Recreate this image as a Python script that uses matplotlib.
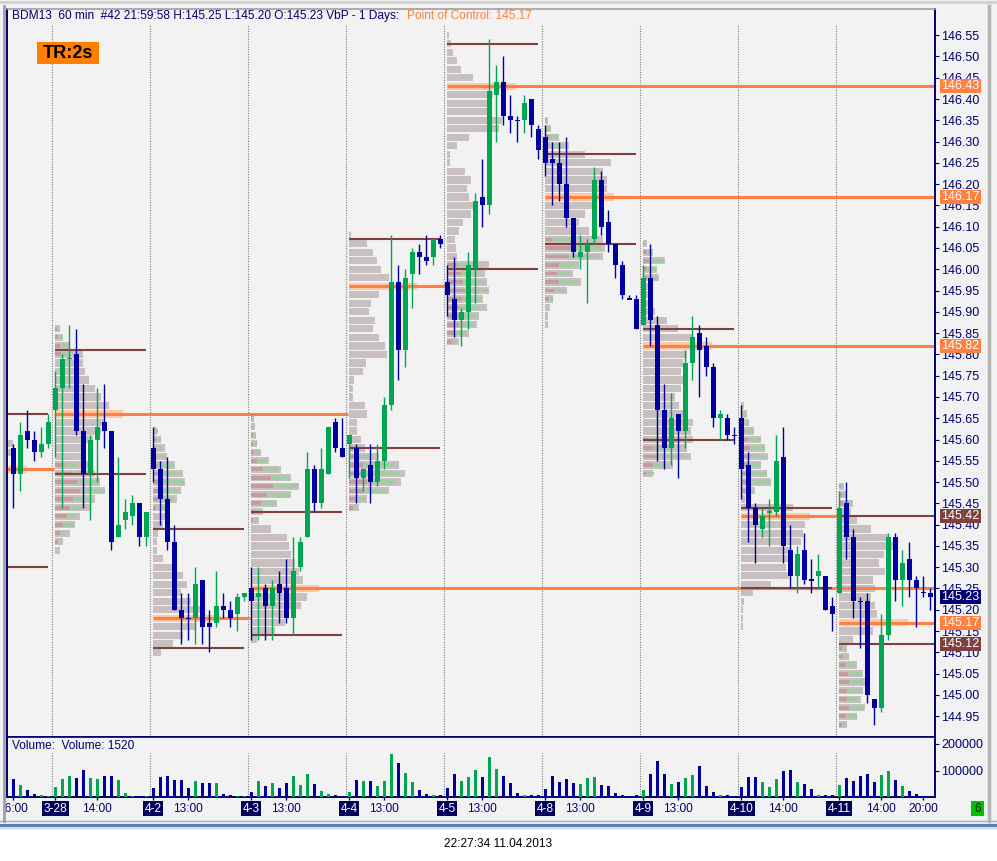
import matplotlib
matplotlib.use('Agg')
import matplotlib.pyplot as plt
import matplotlib.patches as mpatches
import matplotlib.transforms as mtransforms
import numpy as np

plt.rcParams['font.family'] = ['Liberation Sans', 'DejaVu Sans']

W, H = 997, 861

# --- hourly bars (3-27 tail + 9 sessions of 14 bars) ---
opens = [145.58, 145.52, 145.62, 145.60, 145.57, 145.59,
         145.67, 145.72, 145.79, 145.80, 145.62, 145.52, 145.60, 145.64, 145.62, 145.37, 145.41, 145.42, 145.45, 145.37,
         145.58, 145.53, 145.46, 145.36, 145.20, 145.18, 145.18, 145.27, 145.17, 145.17, 145.21, 145.20, 145.19, 145.23,
         145.25, 145.23, 145.25, 145.21, 145.26, 145.25, 145.18, 145.30, 145.37, 145.53, 145.45, 145.52, 145.64, 145.58,
         145.59, 145.58, 145.51, 145.54, 145.50, 145.55, 145.68, 145.97, 145.81, 145.99, 146.04, 146.03, 146.03, 146.07,
         145.97, 145.93, 145.88, 145.90, 146.00, 146.17, 146.15, 146.41, 146.44, 146.36, 146.35, 146.35, 146.40, 146.33,
         146.31, 146.26, 146.25, 146.20, 146.12, 146.03, 146.04, 146.07, 146.21, 146.11, 146.06, 146.01, 145.93, 145.93,
         145.87, 145.98, 145.87, 145.67, 145.58, 145.66, 145.62, 145.78, 145.85, 145.82, 145.77, 145.65, 145.65, 145.61,
         145.65, 145.54, 145.44, 145.39, 145.43, 145.43, 145.56, 145.34, 145.28, 145.34, 145.27, 145.28, 145.28, 145.21,
         145.24, 145.45, 145.37, 145.22, 145.22, 144.99, 144.97, 145.14, 145.37, 145.27, 145.32, 145.27, 145.24, 145.24]
highs = [145.59, 145.64, 145.67, 145.62, 145.63, 145.66,
         145.76, 145.80, 145.87, 145.86, 145.73, 145.61, 145.72, 145.73, 145.62, 145.56, 145.46, 145.47, 145.45, 145.43,
         145.63, 145.55, 145.56, 145.40, 145.24, 145.24, 145.30, 145.27, 145.20, 145.29, 145.24, 145.22, 145.24, 145.24,
         145.30, 145.30, 145.26, 145.27, 145.29, 145.32, 145.37, 145.37, 145.57, 145.54, 145.58, 145.63, 145.65, 145.65,
         145.61, 145.59, 145.53, 145.59, 145.59, 145.70, 146.08, 146.01, 146.00, 146.05, 146.06, 146.08, 146.07, 146.08,
         146.01, 146.03, 145.91, 146.04, 146.18, 146.26, 146.54, 146.48, 146.50, 146.41, 146.36, 146.41, 146.40, 146.34,
         146.34, 146.30, 146.30, 146.31, 146.12, 146.08, 146.07, 146.24, 146.23, 146.14, 146.06, 146.02, 145.94, 145.94,
         146.01, 146.06, 145.89, 145.73, 145.71, 145.66, 145.81, 145.89, 145.87, 145.84, 145.78, 145.67, 145.66, 145.63,
         145.68, 145.57, 145.45, 145.44, 145.46, 145.61, 145.63, 145.40, 145.35, 145.38, 145.32, 145.33, 145.28, 145.23,
         145.48, 145.50, 145.39, 145.23, 145.24, 144.99, 145.19, 145.38, 145.38, 145.34, 145.36, 145.28, 145.28, 145.25]
lows = [145.44, 145.48, 145.58, 145.55, 145.56, 145.58,
        145.56, 145.44, 145.72, 145.61, 145.44, 145.41, 145.50, 145.58, 145.34, 145.37, 145.39, 145.40, 145.35, 145.35,
        145.50, 145.40, 145.34, 145.20, 145.12, 145.13, 145.12, 145.12, 145.10, 145.16, 145.18, 145.16, 145.15, 145.22,
        145.13, 145.13, 145.13, 145.13, 145.17, 145.17, 145.14, 145.29, 145.37, 145.43, 145.44, 145.52, 145.57, 145.56,
        145.51, 145.45, 145.48, 145.45, 145.49, 145.53, 145.67, 145.74, 145.77, 145.91, 145.99, 146.01, 146.01, 146.05,
        145.89, 145.84, 145.82, 145.86, 145.92, 146.10, 146.13, 146.30, 146.34, 146.32, 146.30, 146.32, 146.31, 146.26,
        146.22, 146.15, 146.16, 146.10, 146.03, 146.00, 145.92, 146.06, 146.08, 146.04, 145.98, 145.93, 145.93, 145.86,
        145.87, 145.82, 145.55, 145.53, 145.54, 145.51, 145.58, 145.74, 145.70, 145.75, 145.63, 145.60, 145.60, 145.59,
        145.46, 145.36, 145.31, 145.37, 145.35, 145.42, 145.31, 145.25, 145.24, 145.26, 145.24, 145.25, 145.20, 145.15,
        145.24, 145.32, 145.18, 145.11, 144.98, 144.93, 144.96, 145.13, 145.22, 145.21, 145.23, 145.16, 145.23, 145.20]
closes = [145.52, 145.61, 145.60, 145.57, 145.59, 145.64,
          145.72, 145.79, 145.79, 145.62, 145.52, 145.60, 145.63, 145.62, 145.36, 145.40, 145.43, 145.45, 145.37, 145.43,
          145.53, 145.46, 145.36, 145.20, 145.18, 145.18, 145.26, 145.16, 145.16, 145.21, 145.20, 145.18, 145.23, 145.24,
          145.22, 145.24, 145.21, 145.25, 145.24, 145.18, 145.29, 145.36, 145.53, 145.45, 145.53, 145.63, 145.58, 145.56,
          145.61, 145.51, 145.53, 145.50, 145.55, 145.68, 145.97, 145.81, 145.98, 146.04, 146.03, 146.02, 146.07, 146.06,
          145.94, 145.88, 145.90, 146.01, 146.16, 146.15, 146.42, 146.44, 146.36, 146.35, 146.35, 146.39, 146.34, 146.28,
          146.25, 146.25, 146.20, 146.12, 146.04, 146.04, 146.06, 146.21, 146.10, 146.06, 146.01, 145.94, 145.93, 145.86,
          145.98, 145.88, 145.67, 145.58, 145.65, 145.62, 145.78, 145.84, 145.81, 145.77, 145.65, 145.66, 145.61, 145.61,
          145.53, 145.44, 145.40, 145.42, 145.43, 145.55, 145.35, 145.28, 145.33, 145.27, 145.27, 145.29, 145.20, 145.19,
          145.44, 145.37, 145.22, 145.22, 145.00, 144.97, 145.14, 145.37, 145.27, 145.31, 145.27, 145.25, 145.24, 145.23]
doji_up = [8, 108]   # unchanged bars drawn in the up colour
volumes = [68000, 45000, 26000, 11000, 8000, 4000,
           38000, 68000, 79000, 72000, 102000, 72000, 68000, 79000, 79000, 64000, 15000, 4000, 4000, 4000,
           34000, 76000, 79000, 64000, 64000, 34000, 60000, 53000, 53000, 53000, 11000, 8000, 4000, 4000,
           19000, 60000, 42000, 53000, 34000, 53000, 79000, 45000, 87000, 49000, 23000, 11000, 8000, 4000,
           19000, 64000, 60000, 60000, 42000, 60000, 162000, 128000, 91000, 57000, 26000, 11000, 8000, 8000,
           34000, 87000, 60000, 76000, 102000, 76000, 151000, 106000, 79000, 53000, 15000, 8000, 8000, 8000,
           30000, 79000, 57000, 68000, 53000, 49000, 72000, 76000, 45000, 42000, 15000, 8000, 4000, 8000,
           26000, 87000, 136000, 87000, 49000, 57000, 72000, 83000, 117000, 42000, 19000, 8000, 8000, 4000,
           38000, 76000, 76000, 57000, 38000, 68000, 98000, 102000, 57000, 49000, 30000, 8000, 8000, 8000,
           45000, 72000, 60000, 79000, 87000, 57000, 83000, 98000, 64000, 42000, 23000, 11000, 4000, 4000]

day_names = ['3-28', '4-2', '4-3', '4-4', '4-5', '4-8', '4-9', '4-10', '4-11']
day_starts = [6, 20, 34, 48, 62, 76, 90, 104, 118]
time_label_bars = [0, 12, 25, 39, 53, 67, 81, 95, 110, 124, 130]
time_labels = ['16:00', '14:00', '13:00', '13:00', '13:00', '13:00', '13:00', '13:00', '14:00', '14:00', '20:00']

# --- volume by price, one profile per session (rows every 0.02, from the top price down) ---
vp_starts = [-8, 6, 20, 34, 48, 62, 76, 90, 104, 118]
vp_tops = [145.59, 145.86, 145.62, 145.65, 146.08, 146.55, 146.35, 146.06, 145.68, 145.49]
vp_0327 = [56, 55, 40, 69]
vp_0328 = [5, 8, 14, 28, 28, 30, 34, 40, 46, 54, 68, 50, 46, 38, 30, 26, 38, 40, 45, 50, 40, 36, 25, 20, 15, 8, 5]
vp_0402 = [4, 8, 12, 14, 22, 30, 32, 28, 24, 14, 16, 10, 5, 4, 4, 10, 24, 30, 34, 28, 38, 50, 68, 42, 30, 20, 8]
vp_0403 = [3, 4, 5, 6, 10, 18, 30, 40, 48, 40, 26, 12, 8, 20, 36, 38, 40, 44, 48, 52, 68, 56, 50, 38, 34, 24, 6]
vp_0404 = [2, 18, 24, 28, 32, 40, 68, 30, 22, 20, 26, 24, 30, 36, 38, 17, 14, 5, 4, 4, 16, 18, 8, 8, 12, 16,
           30, 50, 56, 52, 40, 18, 10]
vp_0405 = [2, 4, 6, 10, 14, 26, 69, 46, 42, 45, 55, 52, 22, 10, 3, 3, 18, 24, 20, 22, 26, 24, 16, 12, 8, 9, 10,
           42, 38, 40, 42, 36, 40, 32, 30, 22, 12]
vp_0408 = [3, 6, 14, 24, 40, 66, 58, 62, 62, 69, 48, 40, 34, 44, 58, 60, 58, 34, 28, 36, 22, 8, 5, 3, 3]
vp_0409 = [4, 10, 22, 14, 16, 6, 5, 10, 12, 24, 35, 50, 69, 44, 40, 38, 40, 38, 32, 36, 40, 50, 48, 50, 44, 48, 30, 10]
vp_0410 = [3, 6, 8, 13, 20, 24, 27, 20, 26, 30, 14, 4, 52, 69, 64, 62, 60, 50, 52, 45, 48, 30, 12, 3, 2, 2, 2]
vp_0411 = [5, 8, 14, 12, 18, 32, 50, 58, 45, 40, 46, 34, 36, 32, 36, 38, 69, 34, 14, 8, 10, 18, 24, 26, 24, 22, 26, 18, 8]

sell_0327 = [0, 0, 0, 0]
buy_0327 = [0, 0, 0, 0]
sell_0328 = [2, 3, 5, 6, 0, 0, 0, 0, 0, 0, 0, 0, 0, 0, 0, 0, 10, 16, 22, 25, 18, 15, 12, 8, 5, 3, 0]
buy_0328 = [2, 4, 6, 8, 0, 0, 0, 0, 0, 0, 0, 0, 0, 0, 0, 0, 12, 17, 20, 24, 16, 10, 8, 10, 4, 0, 0]
sell_0402 = [2, 3, 3, 4, 5, 8, 8, 6, 5, 3, 0, 0, 0, 0, 0, 0, 0, 0, 0, 0, 0, 0, 0, 0, 0, 0, 0]
buy_0402 = [2, 4, 5, 8, 14, 20, 22, 18, 14, 8, 0, 0, 0, 0, 0, 0, 0, 0, 0, 0, 0, 0, 0, 0, 0, 0, 0]
sell_0403 = [1, 1, 2, 2, 3, 6, 12, 20, 22, 16, 10, 4, 2, 0, 0, 0, 0, 0, 0, 0, 0, 0, 0, 0, 0, 0, 0]
buy_0403 = [1, 2, 2, 3, 5, 9, 14, 18, 24, 22, 14, 6, 4, 0, 0, 0, 0, 0, 0, 0, 0, 0, 0, 0, 0, 0, 0]
sell_0404 = [0, 0, 0, 0, 0, 0, 0, 0, 0, 0, 0, 0, 0, 0, 0, 0, 0, 0, 0, 0, 0, 0, 0, 0, 0,
             4, 8, 14, 16, 18, 15, 8, 4]
buy_0404 = [0, 0, 0, 0, 0, 0, 0, 0, 0, 0, 0, 0, 0, 0, 0, 0, 0, 0, 0, 0, 0, 0, 0, 0, 0,
            6, 12, 30, 34, 28, 20, 8, 3]
sell_0405 = [0, 0, 0, 0, 0, 0, 0, 0, 0, 0, 0, 0, 0, 0, 0, 0, 0, 0, 0, 0, 0, 0, 0, 0, 0, 0, 0,
             10, 14, 16, 18, 15, 12, 12, 12, 8, 5]
buy_0405 = [0, 0, 0, 0, 0, 0, 0, 0, 0, 0, 0, 0, 0, 0, 0, 0, 0, 0, 0, 0, 0, 0, 0, 0, 0, 0, 0,
            18, 16, 20, 22, 18, 20, 18, 14, 10, 4]
sell_0408 = [1, 2, 4, 4, 0, 0, 0, 0, 0, 0, 0, 0, 0, 0, 8, 28, 24, 14, 12, 14, 10, 4, 0, 0, 0]
buy_0408 = [1, 3, 8, 14, 0, 0, 0, 0, 0, 0, 0, 0, 0, 0, 20, 28, 30, 16, 12, 18, 10, 3, 0, 0, 0]
sell_0409 = [1, 4, 6, 4, 4, 0, 0, 0, 0, 0, 0, 0, 0, 0, 0, 0, 0, 0, 0, 0, 0, 0, 0, 5, 10, 14, 10, 4]
buy_0409 = [2, 5, 14, 8, 10, 0, 0, 0, 0, 0, 0, 0, 0, 0, 0, 0, 0, 0, 0, 0, 0, 0, 0, 10, 20, 28, 14, 6]
sell_0410 = [1, 2, 3, 4, 7, 9, 10, 7, 9, 10, 4, 0, 0, 0, 0, 0, 0, 0, 0, 0, 0, 0, 0, 0, 0, 0, 0]
buy_0410 = [1, 3, 4, 8, 12, 14, 16, 12, 16, 18, 9, 0, 0, 0, 0, 0, 0, 0, 0, 0, 0, 0, 0, 0, 0, 0, 0]
sell_0411 = [2, 3, 4, 3, 0, 0, 0, 0, 0, 0, 0, 0, 0, 0, 0, 0, 0, 0, 0, 3, 4, 7, 9, 10, 8, 8, 10, 7, 3]
buy_0411 = [2, 4, 8, 6, 0, 0, 0, 0, 0, 0, 0, 0, 0, 0, 0, 0, 0, 0, 0, 3, 5, 8, 12, 13, 12, 10, 14, 10, 4]

vp_totals = [vp_0327, vp_0328, vp_0402, vp_0403, vp_0404, vp_0405, vp_0408, vp_0409, vp_0410, vp_0411]
vp_sells = [sell_0327, sell_0328, sell_0402, sell_0403, sell_0404, sell_0405, sell_0408, sell_0409, sell_0410, sell_0411]
vp_buys = [buy_0327, buy_0328, buy_0402, buy_0403, buy_0404, buy_0405, buy_0408, buy_0409, buy_0410, buy_0411]

# point of control, value area high / low per session; POC stays until price trades back to it
poc = [145.53, 145.66, 145.18, 145.25, 145.96, 146.43, 146.17, 145.82, 145.42, 145.17]
poc_touched_bar = [6, 48, 34, None, 62, None, None, None, 118, None]
va_high = [145.66, 145.81, 145.39, 145.43, 146.07, 146.53, 146.27, 145.86, 145.44, 145.42]
va_low = [145.30, 145.52, 145.11, 145.14, 145.58, 146.00, 146.06, 145.60, 145.25, 145.12]

BLUE = '#0000a0'
GREEN = '#00a651'
NAVY = '#000070'
ORANGE = '#ff8040'
BROWN = '#804040'
BG = '#f2f2f2'

# price <-> pixel layout of the screenshot
Y_REF, PX_PER_PT = 35.2, 425.6
price_hi = 146.55 + (Y_REF - 9) / PX_PER_PT
price_lo = 146.55 - (737 - Y_REF) / PX_PER_PT
x_lo, x_hi = -0.9, 131.67


def fx(px):
    return px / W


def fy(py):
    return 1 - py / H


def main():
    fig = plt.figure(figsize=(W / 100, H / 100), dpi=100, facecolor='white')
    fig.patches.append(mpatches.Rectangle((0, fy(821)), 1, 1 - fy(821), transform=fig.transFigure,
                                          facecolor=BG, edgecolor='none', zorder=-10))
    for y, c, lw in [(821, '#a8a8a8', 1.0), (825, '#5a7fb8', 2.4), (828, '#c8d4e8', 1.0)]:
        fig.lines.append(plt.Line2D([0, 1], [fy(y), fy(y)], transform=fig.transFigure, color=c, lw=lw))
    fig.lines.append(plt.Line2D([fx(4), fx(4)], [fy(821), fy(6)], transform=fig.transFigure, color='#a0a0a0', lw=2))
    fig.lines.append(plt.Line2D([fx(989), fx(989)], [fy(821), fy(6)], transform=fig.transFigure, color='#b4b4b4', lw=2.5))
    fig.lines.append(plt.Line2D([0, 1], [fy(2), fy(2)], transform=fig.transFigure, color='#d0d0d0', lw=2))

    ax = fig.add_axes([fx(7), fy(737), (935 - 7) / W, (737 - 9) / H], facecolor=BG)
    axv = fig.add_axes([fx(7), fy(797), (935 - 7) / W, (797 - 737) / H], facecolor=BG)

    n = len(opens)
    x = np.arange(n)
    o = np.array(opens)
    c = np.array(closes)
    up = (c > o) | (np.isclose(c, o) & np.isin(x, doji_up))
    cols = np.where(up, GREEN, BLUE)

    # volume profiles
    unit = 1 / 7.0
    for k in range(len(vp_totals)):
        base = vp_starts[k] - 0.05
        tot = np.array(vp_totals[k], dtype=float)
        sell = np.array(vp_sells[k], dtype=float)
        buy = np.array(vp_buys[k], dtype=float)
        prices = vp_tops[k] - 0.02 * np.arange(len(tot))
        fills = ['#ffc8a4' if abs(p - poc[k]) < 0.004 else '#c8c0c0' for p in prices]
        ax.barh(prices, tot * unit, left=base, height=0.017, color=fills, linewidth=0, zorder=1)
        m = sell > 0
        ax.barh(prices[m], sell[m] * unit, left=base, height=0.009, color='#c49c9c', linewidth=0, zorder=1.1)
        m = buy > 0
        ax.barh(prices[m], buy[m] * unit, left=base + (sell[m] + 1) * unit, height=0.009,
                color='#a4cca4', linewidth=0, zorder=1.1)

    # session separators
    sep = np.array(day_starts) - 0.43
    top_sep = 146.55 + (Y_REF - 25) / PX_PER_PT
    ax.vlines(sep, price_lo, top_sep, colors='#7a7a7a', linestyles=(0, (1, 1.3)), linewidth=0.8, zorder=1.5)
    axv.vlines(sep, 0, 166000, colors='#7a7a7a', linestyles=(0, (1, 1.3)), linewidth=0.8, zorder=1.5)

    # POC and value area lines
    for k in range(len(poc)):
        x0 = vp_starts[k] - 0.05
        x1 = x_hi if poc_touched_bar[k] is None else poc_touched_bar[k] - 0.25
        ax.hlines(poc[k], max(x0, x_lo), x1, colors=ORANGE, linewidth=2.2, zorder=2.1)
        x1 = x_hi if k == len(poc) - 1 else x0 + 13
        ax.hlines([va_high[k], va_low[k]], max(x0, x_lo), x1, colors=BROWN, linewidth=1.5, zorder=2.2)

    # candles
    ax.vlines(x, lows, highs, colors=cols, linewidth=1.0, zorder=3)
    body_lo = np.minimum(o, c)
    body_h = np.abs(c - o)
    flat = body_h < 0.003
    body_lo = np.where(flat, o - 0.0016, body_lo)
    body_h = np.where(flat, 0.0032, body_h)
    ax.bar(x, body_h, bottom=body_lo, width=0.71, color=cols, linewidth=0, zorder=4)

    # volume bars
    axv.bar(x, volumes, width=0.43, color=cols, linewidth=0, zorder=3)

    ax.set_xlim(x_lo, x_hi)
    ax.set_ylim(price_lo, price_hi)
    axv.set_xlim(x_lo, x_hi)
    axv.set_ylim(0, (797 - 737) / 26.5 * 100000)

    yt = np.round(np.arange(144.95, 146.5501, 0.05), 2)
    ax.yaxis.tick_right()
    ax.set_yticks(yt)
    ax.set_yticklabels([f'{v:.2f}' for v in yt])
    ax.set_xticks([])
    ax.tick_params(axis='y', direction='out', length=2.9, width=0.8, pad=1.6, colors=NAVY, labelsize=9)

    axv.yaxis.tick_right()
    axv.set_yticks([100000, 200000])
    axv.set_yticklabels(['100000', '200000'])
    axv.tick_params(axis='y', direction='out', length=2.9, width=0.8, pad=1.6, colors=NAVY, labelsize=9)
    axv.set_xticks(time_label_bars + day_starts)
    axv.set_xticklabels([])
    axv.tick_params(axis='x', direction='out', length=2.5, width=1.0, colors=NAVY)

    for a in (ax, axv):
        for s in ('left', 'right', 'bottom'):
            a.spines[s].set_color(NAVY)
            a.spines[s].set_linewidth(1.4)
        a.spines['top'].set_color(NAVY)
        a.spines['top'].set_linewidth(1.2)
    ax.spines['top'].set_color('#a0a0a0')

    # boxed price marks on the right axis
    marks = [(v, ORANGE) for v in (poc[5], poc[6], poc[7], poc[9])]
    marks += [(va_high[9], BROWN), (va_low[9], BROWN), (closes[-1], NAVY)]
    bt = mtransforms.blended_transform_factory(ax.transAxes, ax.transData)
    for v, col in marks:
        hh = 14 / PX_PER_PT
        ax.add_patch(mpatches.Rectangle(((940 - 7) / 928, v - hh / 2), 41 / 928, hh, transform=bt,
                                        facecolor=col, edgecolor='none', clip_on=False, zorder=10))
        ax.text((960.5 - 7) / 928, v, f'{v:.2f}', transform=bt, ha='center', va='center',
                fontsize=9, color='white', clip_on=False, zorder=11)

    # time and session labels under the volume panel
    tb = mtransforms.blended_transform_factory(axv.transData, fig.transFigure)
    clip = mtransforms.TransformedBbox(mtransforms.Bbox.from_extents(fx(5), 0, 1, 1), fig.transFigure)
    for b, t in zip(time_label_bars, time_labels):
        tx = axv.text(b, fy(809), t, transform=tb, ha='center', va='center', fontsize=8.6, color=NAVY,
                      clip_on=True)
        tx.set_clip_box(clip)
    for b, t in zip(day_starts, day_names):
        axv.text(b, fy(808.5), t, transform=tb, ha='center', va='center', fontsize=8.6, color='white',
                 bbox=dict(boxstyle='square,pad=0.12', fc='#00005a', ec='none'), clip_on=False)

    fig.patches.append(mpatches.Rectangle((fx(971), fy(816)), 13 / W, 15 / H, transform=fig.transFigure,
                                          facecolor='#00c000', edgecolor='none'))
    fig.text(fx(977.5), fy(808.5), '6', ha='center', va='center', fontsize=8.6, color='#002000')

    # header
    hdr = fig.text(fx(12), fy(16), 'BDM13  60 min  #42 21:59:58 H:145.25 L:145.20 O:145.23 VbP - 1 Days:',
                   ha='left', va='center', fontsize=8.6, color=NAVY)
    fig.canvas.draw()
    bb = hdr.get_window_extent(fig.canvas.get_renderer())
    fig.text((bb.x1 + 8) / W, fy(16), f'Point of Control: {poc[9]:.2f}', ha='left', va='center',
             fontsize=8.6, color=ORANGE)

    fig.patches.append(mpatches.Rectangle((fx(37), fy(64)), 62 / W, 22 / H, transform=fig.transFigure,
                                          facecolor='#ff8000', edgecolor='none'))
    fig.text(fx(68), fy(53), 'TR:2s', ha='center', va='center', fontsize=13, fontweight='bold', color='black')

    fig.text(fx(12), fy(746), 'Volume:  Volume: 1520', ha='left', va='center', fontsize=8.6, color=NAVY)

    fig.text(0.5, fy(844), '22:27:34 11.04.2013', ha='center', va='center', fontsize=8.6, color='black')

    fig.savefig('out.png', dpi=100, facecolor=fig.get_facecolor())


if __name__ == "__main__":
    main()
